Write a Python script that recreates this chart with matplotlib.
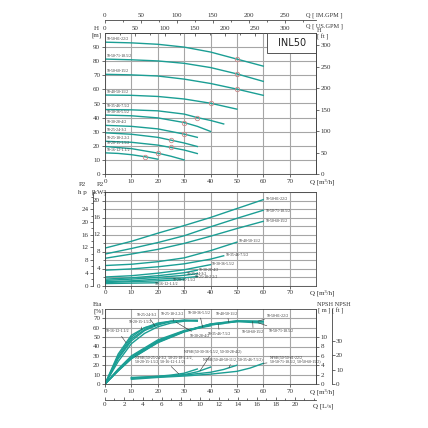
import numpy as np
import matplotlib
matplotlib.use('Agg')
import matplotlib.pyplot as plt
from matplotlib.patches import Rectangle
from matplotlib.ticker import MultipleLocator

plt.rcParams['font.family'] = ['Liberation Serif', 'DejaVu Serif']

# pump models (largest first)
models = ['50-50-81-22/2', '50-50-71-18.5/2', '50-50-60-15/2', '50-40-50-11/2',
          '50-35-46-7.5/2', '50-30-36-5.5/2', '50-30-28-4/2', '50-25-24-3/2',
          '50-25-18-2.2/2', '50-20-15-1.5/2', '50-16-12-1.1/2']

# Q-H curves, Q in m3/h, H in m
h_q = [[0, 10, 20, 30, 40, 50, 60],
       [0, 10, 20, 30, 40, 50, 60],
       [0, 10, 20, 30, 40, 50, 60],
       [0, 10, 20, 30, 40, 50],
       [0, 10, 20, 30, 35, 40, 45],
       [0, 10, 20, 30, 35, 40],
       [0, 10, 20, 30, 35],
       [0, 10, 20, 25, 30, 35],
       [0, 10, 20, 25, 30, 35],
       [0, 10, 20, 25, 30],
       [0, 5, 10, 15, 20]]
h_val = [[93.5, 93, 92, 90, 86.5, 81.5, 76.5],
         [81.5, 81, 80.2, 78.5, 75.5, 71, 65.7],
         [70.7, 70.3, 69.5, 67.3, 64.2, 60.2, 55.8],
         [56, 55.8, 55, 53.2, 50.2, 46],
         [45.7, 45.5, 44.8, 42.5, 40, 38, 35.5],
         [41.8, 41.3, 39.8, 36.5, 33.8, 30.2],
         [34.5, 33.8, 32, 28.3, 26],
         [29.2, 28.2, 26, 24, 22, 19.5],
         [23.2, 22.5, 20.5, 18.8, 17, 14.5],
         [19.5, 18, 14.8, 12.6, 10],
         [15, 14.6, 13.7, 12.3, 10.5]]
duty_q = [50, 50, 50, 40, 35, 30, 30, 25, 25, 20, 15]

# Q-P2 curves, kW
p_q = [[0, 10, 20, 30, 40, 50, 60],
       [0, 10, 20, 30, 40, 50, 60],
       [0, 10, 20, 30, 40, 50, 60],
       [0, 10, 20, 30, 40, 50],
       [0, 10, 20, 30, 40, 45],
       [0, 10, 20, 30, 40],
       [0, 10, 20, 30, 35],
       [0, 10, 20, 30, 35],
       [0, 10, 20, 30, 35],
       [0, 10, 20, 30],
       [0, 10, 20]]
p_val = [[8.8, 10.4, 12.3, 14.1, 16, 18.1, 20.2],
         [7.4, 8.7, 10.1, 11.7, 13.8, 15.8, 17.7],
         [6.4, 7.4, 8.5, 9.9, 11.6, 13.4, 15.1],
         [4.7, 5.0, 5.6, 6.5, 8.2, 10.2],
         [3.6, 3.9, 4.4, 5.1, 6.2, 7.0],
         [2.0, 2.3, 2.9, 3.7, 4.9],
         [1.5, 1.8, 2.3, 3.0, 3.6],
         [1.2, 1.5, 1.9, 2.4, 2.8],
         [0.9, 1.1, 1.5, 1.8, 2.1],
         [0.7, 0.9, 1.1, 1.4],
         [0.45, 0.55, 0.65]]

# efficiency curves, %
eta_q = [[0, 5, 10, 20, 30, 40, 50, 60],
         [0, 5, 10, 20, 30, 40, 50, 60],
         [0, 5, 10, 20, 30, 40, 50, 60],
         [0, 5, 10, 20, 30, 40, 50],
         [0, 5, 10, 20, 30, 40, 45],
         [0, 5, 10, 20, 30, 40],
         [0, 5, 10, 15, 20, 25, 30, 35],
         [0, 5, 10, 15, 20, 25, 30, 35],
         [0, 5, 10, 15, 20, 25, 30, 35],
         [0, 5, 10, 15, 20, 25, 30],
         [0, 5, 10, 15, 20]]
eta_val = [[0, 14, 27, 44.5, 56, 64, 67.5, 67],
           [0, 14, 27, 44, 55.5, 63, 66.5, 65],
           [0, 15, 28, 45, 56.5, 64, 67, 66.5],
           [0, 15, 28, 45, 56, 63.5, 66.5],
           [0, 15, 29, 46, 56.5, 63, 64.5],
           [0, 16, 30, 47, 57, 62],
           [0, 24, 43, 54, 61, 65, 67, 67.5],
           [0, 27, 46, 57, 63, 66.5, 68, 68],
           [0, 28, 48, 58, 64, 67, 68, 67],
           [0, 30, 50, 60, 65, 67, 67],
           [0, 32, 52, 60, 63]]

# NPSH curves, m
npsh_names = ['NPSH(50-25-24-3/2, 50-25-18-2.2/2,\n50-20-15-1.5/2, 50-16-12-1.1/2)',
              'NPSH(50-30-36-5.5/2, 50-30-28-4/2)',
              'NPSH(50-40-50-11/2, 50-35-46-7.5/2)',
              'NPSH(50-50-81-22/2,\n50-50-71-18.5/2, 50-50-60-15/2)']
npsh_q = [[10, 15, 20, 25, 30, 35],
          [10, 20, 30, 35, 40],
          [10, 20, 30, 40, 45, 50],
          [10, 20, 30, 40, 50, 55, 60]]
npsh_val = [[1.4, 1.5, 1.65, 1.9, 2.3, 3.2],
            [1.3, 1.6, 2.0, 2.6, 3.6],
            [1.2, 1.5, 1.9, 2.5, 3.1, 4.0],
            [1.0, 1.4, 1.7, 2.1, 2.7, 3.4, 4.4]]

M3H_IMGPM = 3.6662
M3H_USGPM = 4.4029
M_FT = 3.2808
HP_KW = 0.7457
ETA_PER_M = 5.0

CURVE = '#1b9e94'
GRID = '#a6a6a6'
TXT = '#333333'
FS = 5
LFS = 2.8

W = 428.0
fig = plt.figure(figsize=(4.28, 4.28), dpi=100)


def px_axes(l, t, r, b):
    return fig.add_axes([l / W, 1 - b / W, (r - l) / W, (b - t) / W])


def ftxt(x, y, s, **kw):
    kw.setdefault('fontsize', FS)
    kw.setdefault('color', TXT)
    fig.text(x / W, 1 - y / W, s, **kw)


def style(ax):
    for sp in ax.spines.values():
        sp.set_linewidth(0.6)
        sp.set_color('#444444')
    ax.tick_params(labelsize=FS, colors=TXT, length=2, width=0.5, pad=1.5)
    ax.tick_params(which='minor', length=1.2, width=0.4)


def style_sec(sa):
    for sp in sa.spines.values():
        sp.set_linewidth(0.6)
        sp.set_color('#444444')
    sa.tick_params(labelsize=FS, colors=TXT, length=2, width=0.5, pad=1.2)
    sa.tick_params(which='minor', length=1.2, width=0.4)


# ---------------- Q-H ----------------
ax1 = px_axes(105, 33, 316, 174)
style(ax1)
ax1.set_xlim(0, 80)
ax1.set_ylim(0, 100)
ax1.set_xticks(range(0, 80, 10))
ax1.set_yticks(range(0, 100, 10))
ax1.grid(True, color=GRID, lw=0.8)
ax1.set_axisbelow(True)
for i in range(len(models)):
    ax1.plot(h_q[i], h_val[i], color=CURVE, lw=1.0, zorder=2)
    dh = np.interp(duty_q[i], h_q[i], h_val[i])
    ax1.plot(duty_q[i], dh, 'o', ms=3.2, mfc='none', mec='#c98888', mew=0.6, zorder=3)
    ax1.text(0.6, h_val[i][0] + 0.8, models[i], fontsize=LFS, color=TXT, va='bottom')
ax1.add_patch(Rectangle((61.5, 85.5), 18.5, 14.5, facecolor='white',
                        edgecolor='#555555', lw=0.7, zorder=4))
ax1.text(70.8, 92.6, 'INL50', fontsize=7, ha='center', va='center',
         family='DejaVu Sans', color='#222222', zorder=5)
ax1.text(77.6, -3.5, 'Q [m³/h]', fontsize=FS, color=TXT, va='top', ha='left')

us = ax1.secondary_xaxis('top', functions=(lambda q: q * M3H_USGPM, lambda g: g / M3H_USGPM))
style_sec(us)
us.set_xticks(range(0, 301, 50))
us.xaxis.set_minor_locator(MultipleLocator(25))
us.tick_params(which='both', direction='in')

im = ax1.secondary_xaxis(1.095, functions=(lambda q: q * M3H_IMGPM, lambda g: g / M3H_IMGPM))
style_sec(im)
im.set_xticks(range(0, 251, 50))
im.xaxis.set_minor_locator(MultipleLocator(25))
im.tick_params(which='both', direction='in')

ft = ax1.secondary_yaxis('right', functions=(lambda h: h * M_FT, lambda f: f / M_FT))
style_sec(ft)
ft.set_yticks(range(0, 301, 50))

ftxt(306, 15, 'Q [ IM.GPM ]', va='center', fontsize=4.5)
ftxt(306, 26, 'Q [ US.GPM ]', va='center', fontsize=4.5)
ftxt(317, 31, 'H', va='center', fontsize=4.5)
ftxt(317, 37, '[ ft ]', va='center', fontsize=4.5)
ftxt(94, 28, 'H', va='center')
ftxt(91, 35, '[m]', va='center')

# ---------------- Q-P2 ----------------
ax2 = px_axes(105, 192, 316, 285.5)
style(ax2)
ax2.set_xlim(0, 80)
ax2.set_ylim(0, 22)
ax2.set_xticks(range(0, 80, 10))
ax2.set_yticks(range(0, 21, 4))
ax2.yaxis.set_minor_locator(MultipleLocator(2))
ax2.grid(True, which='both', color=GRID, lw=0.8)
ax2.set_axisbelow(True)
p_lab = [(60.8, 20.4), (60.8, 17.6), (60.8, 15.1), (50.8, 10.4), (45.8, 7.1),
         (40.5, 5.0), (35.7, 3.7), (31, 2.8), (34, 1.9), (25.6, 1.2), (19, 0.35)]
for i in range(len(models)):
    ax2.plot(p_q[i], p_val[i], color=CURVE, lw=1.0, zorder=2)
    ax2.text(p_lab[i][0], p_lab[i][1], models[i], fontsize=LFS, color=TXT,
             va='center', ha='left', zorder=4)
ax2.text(77.6, -1.0, 'Q [m³/h]', fontsize=FS, color=TXT, va='top', ha='left')

hp = ax2.secondary_yaxis(-0.057, functions=(lambda k: k / HP_KW, lambda h: h * HP_KW))
style_sec(hp)
hp.set_yticks(range(0, 25, 4))
hp.yaxis.set_minor_locator(MultipleLocator(2))

ftxt(97, 184, 'P2', va='center')
ftxt(92, 192, '[kW]', va='center')
ftxt(79, 184, 'P2', va='center')
ftxt(78, 192, 'h p', va='center')

# ---------------- Eta / NPSH ----------------
ax3 = px_axes(105, 309, 316, 384)
style(ax3)
ax3.set_xlim(0, 80)
ax3.set_ylim(0, 80)
ax3.set_xticks(range(0, 80, 10))
ax3.set_yticks(range(0, 80, 10))
ax3.grid(True, color=GRID, lw=0.8)
ax3.set_axisbelow(True)
for i in range(len(models)):
    ax3.plot(eta_q[i], eta_val[i], color=CURVE, lw=1.0, zorder=2)
for i in range(len(npsh_names)):
    ax3.plot(npsh_q[i], np.array(npsh_val[i]) * ETA_PER_M, color=CURVE, lw=1.0, zorder=2)

eta_lab = [(0, (61.5, 73), 58), (1, (62, 57), 58), (2, (52, 55), 56), (3, (42, 75), 47),
           (4, (39, 53), 43), (5, (31.5, 75.5), 37), (6, (32, 51), 27), (7, (12, 74), 19),
           (8, (21, 75), 26), (9, (9, 66), 14), (10, (0.5, 56), 8)]
for i, xy, tq in eta_lab:
    ty = np.interp(tq, eta_q[i], eta_val[i])
    ax3.annotate(models[i], xy=(tq, ty), xytext=xy, fontsize=LFS, color=TXT,
                 va='center', ha='left', zorder=4,
                 arrowprops=dict(arrowstyle='-', lw=0.4, color='#333333',
                                 shrinkA=0, shrinkB=0))
npsh_lab = [((11.5, 26), 28), ((30, 34.5), 36), ((37, 26), 47), ((62.5, 26), 60)]
for i, (xy, tq) in enumerate(npsh_lab):
    ty = np.interp(tq, npsh_q[i], npsh_val[i]) * ETA_PER_M
    ax3.annotate(npsh_names[i], xy=(tq, ty), xytext=xy, fontsize=LFS, color=TXT,
                 va='center', ha='left', zorder=4, linespacing=1.0,
                 arrowprops=dict(arrowstyle='-', lw=0.4, color='#333333',
                                 shrinkA=0, shrinkB=0))
ax3.text(77.6, -5, 'Q [m³/h]', fontsize=FS, color=TXT, va='top', ha='left')

nm = ax3.secondary_yaxis('right', functions=(lambda e: e / ETA_PER_M, lambda n: n * ETA_PER_M))
style_sec(nm)
nm.set_yticks(range(0, 11, 2))
nft = ax3.secondary_yaxis(1.074, functions=(lambda e: e / ETA_PER_M * M_FT,
                                            lambda f: f / M_FT * ETA_PER_M))
style_sec(nft)
nft.set_yticks(range(0, 31, 10))

ls = ax3.secondary_xaxis(-0.213, functions=(lambda q: q / 3.6, lambda l: l * 3.6))
style_sec(ls)
ls.set_xticks(range(0, 21, 2))
ls.xaxis.set_minor_locator(MultipleLocator(1))
ls.tick_params(which='both', direction='in')

ftxt(93, 304, 'Eta', va='center')
ftxt(94, 311, '[%]', va='center')
ftxt(317, 304, 'NPSH NPSH', va='center', fontsize=4.5)
ftxt(318, 311, '[ m ] [ ft ]', va='center', fontsize=4.5)
ftxt(313, 406, 'Q [L/s]', va='center')

fig.savefig('out.png', dpi=100, facecolor='white')
